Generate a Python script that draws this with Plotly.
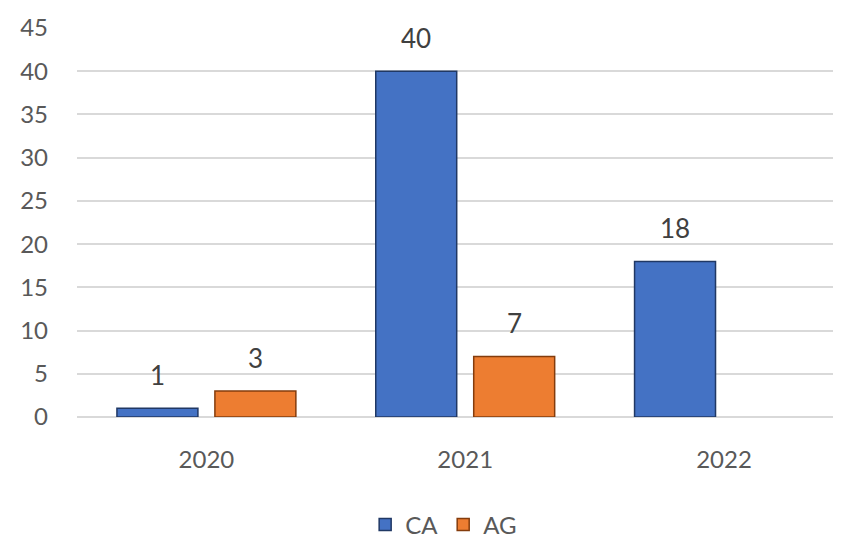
import plotly.graph_objects as go

years = ["2020", "2021", "2022"]
ca_values = [1, 40, 18]
ag_values = [3, 7, None]
y_ticks = [0, 5, 10, 15, 20, 25, 30, 35, 40, 45]

CA_COLOR = "#4472C4"
AG_COLOR = "#ED7D31"
TXT = "#595959"
FONT = "Lato, 'Open Sans', sans-serif"

fig = go.Figure()
fig.add_trace(go.Bar(name="CA", x=years, y=ca_values,
                     marker=dict(color=CA_COLOR, line=dict(color="#203864", width=1.5))))
fig.add_trace(go.Bar(name="AG", x=years, y=ag_values,
                     marker=dict(color=AG_COLOR, line=dict(color="#843C0C", width=1.5))))

# value labels above bars
offset = 0.189
annotations = []
for i, (c, a) in enumerate(zip(ca_values, ag_values)):
    for val, dx in ((c, -offset), (a, offset)):
        if val is None:
            continue
        annotations.append(dict(x=i + dx, y=val, xref="x", yref="y", text=str(val),
                                showarrow=False, yanchor="bottom", yshift=15,
                                font=dict(size=26, color="#404040", family=FONT)))

fig.update_layout(
    width=833, height=530,
    margin=dict(l=69, r=0, t=20, b=121),
    paper_bgcolor="white", plot_bgcolor="white",
    barmode="group", bargap=0.243, bargroupgap=0.1735,
    font=dict(family=FONT, color=TXT, size=24),
    annotations=annotations,
    showlegend=True,
    legend=dict(orientation="h", xref="container", yref="container", x=0.523, y=0.0245,
                xanchor="center", yanchor="middle", font=dict(size=24, color=TXT),
                itemwidth=30, traceorder="normal"),
)
fig.update_xaxes(type="category", range=[-0.5, 2.452], showgrid=False, showline=False,
                 ticks="", ticklabelstandoff=26, tickfont=dict(size=24, color=TXT))
fig.update_yaxes(range=[0, 45], tickvals=y_ticks, showgrid=True, gridcolor="#D9D9D9", gridwidth=2,
                 zeroline=True, zerolinecolor="#D9D9D9", zerolinewidth=2, showline=False,
                 ticks="", ticklabelstandoff=28, tickfont=dict(size=24, color=TXT))

fig.write_html("out.html")
